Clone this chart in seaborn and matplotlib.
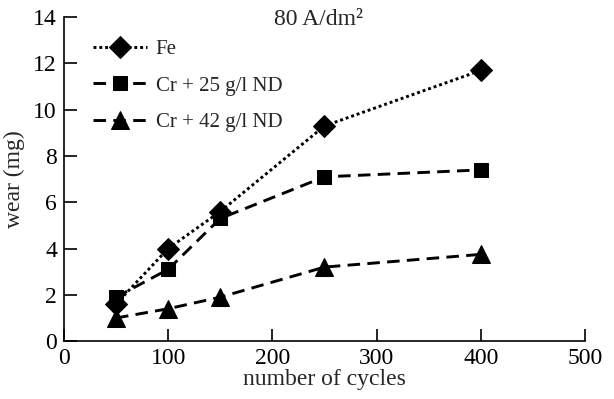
import matplotlib
matplotlib.use('Agg')
import matplotlib.pyplot as plt
import pandas as pd
import seaborn as sns

# Data
cycles = [50, 100, 150, 250, 400]
wear_fe = [1.6, 4.0, 5.6, 9.3, 11.7]
wear_cr25 = [1.9, 3.1, 5.3, 7.1, 7.4]
wear_cr42 = [1.0, 1.4, 1.9, 3.2, 3.75]
labels = ['Fe', 'Cr + 25 g/l ND', 'Cr + 42 g/l ND']

df = pd.DataFrame({
    'cycles': cycles * 3,
    'wear': wear_fe + wear_cr25 + wear_cr42,
    'series': [labels[0]] * 5 + [labels[1]] * 5 + [labels[2]] * 5,
})

sns.set_style('ticks')
plt.rcParams['font.family'] = ['Liberation Serif', 'DejaVu Serif']
plt.rcParams['font.size'] = 16

fig, ax = plt.subplots(figsize=(6.14, 3.99), dpi=100)
fig.subplots_adjust(left=0.104, right=0.953, top=0.957, bottom=0.145)

styles = {
    labels[0]: dict(marker='D', dashes=(1.0, 1.0), markersize=11),
    labels[1]: dict(marker='s', dashes=(4.3, 2.5), markersize=10),
    labels[2]: dict(marker='^', dashes=(4.3, 2.5), markersize=13),
}
for name in labels:
    sub = df[df.series == name]
    st = styles[name]
    sns.lineplot(data=sub, x='cycles', y='wear', ax=ax, color='black',
                 linewidth=2.1, marker=st['marker'], markersize=st['markersize'],
                 markeredgecolor='black', markerfacecolor='black',
                 dashes=False, label=name)
    ax.lines[-1].set_dashes(st['dashes'])

ax.set_xlim(0, 500)
ax.set_ylim(0, 14)
ax.set_xticks([0, 100, 200, 300, 400, 500])
ax.set_yticks([0, 2, 4, 6, 8, 10, 12, 14])
ax.tick_params(direction='in', length=9, width=1.2, labelsize=17, colors='black', pad=5)
for s in ['left', 'bottom']:
    ax.spines[s].set_linewidth(1.2)
    ax.spines[s].set_color('black')
sns.despine(ax=ax)

ax.set_xlabel('number of cycles', fontsize=17, labelpad=0)
ax.set_ylabel('wear (mg)', fontsize=17, labelpad=6)
ax.text(0.488, 0.975, '80 A/dm²', transform=ax.transAxes, ha='center', va='baseline', fontsize=17)

leg = ax.legend(loc='upper left', frameon=False, fontsize=15, handlelength=2.6,
                bbox_to_anchor=(0.028, 0.975), labelspacing=0.8, handletextpad=0.4,
                borderpad=0.2)
for h, st in zip(leg.legend_handles, styles.values()):
    h.set_dashes(st['dashes'])

fig.savefig('out.png', dpi=100)
